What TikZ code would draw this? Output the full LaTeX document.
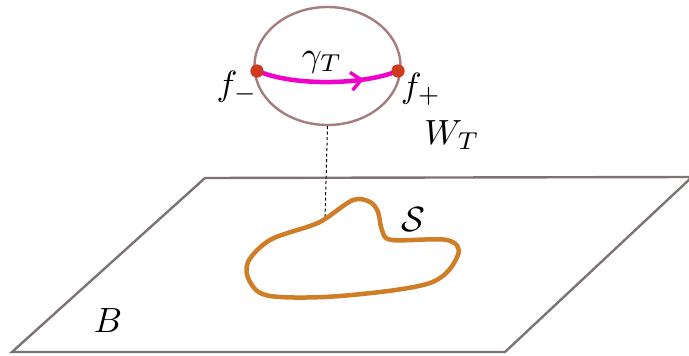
\documentclass[tikz,border=0pt]{standalone}
\usepackage{graphicx}
\usetikzlibrary{shapes.geometric,arrows.meta,decorations.markings}
\definecolor{planec}{RGB}{125,115,115}
\definecolor{ellc}{RGB}{165,125,125}
\definecolor{curvec}{RGB}{208,125,40}
\definecolor{dotc}{RGB}{205,60,30}
\definecolor{magc}{RGB}{240,0,200}
\newcommand{\biglbl}[1]{\scalebox{3.5}{$#1$}}
\tikzset{
  lbl/.style={inner sep=0pt},
  dotnode/.style={circle, fill=dotc, inner sep=0pt, minimum size=13pt},
}
\begin{document}
\begin{tikzpicture}[x=1pt,y=-1pt]
\useasboundingbox (0,0) rectangle (689,356);
% plane
\coordinate (p1) at (205,178);
\coordinate (p2) at (692,177);
\coordinate (p3) at (505,352);
\coordinate (p4) at (12,352);
\draw[planec, line width=2.4pt, line join=miter] (p4) -- (p1) -- (p2) -- (p3) -- cycle;
% fiber ellipse
\node[ellipse, draw=ellc, line width=2.4pt, minimum width=146pt, minimum height=118pt, inner sep=0pt] (W) at (327.5,66) {};
% dashed link
\coordinate (base) at (325,219);
\draw[dashed, dash pattern=on 3pt off 2.5pt, line width=1pt] (W.south) -- (base);
% curve S
\draw[curvec, line width=4.5pt] plot[smooth cycle, tension=0.55] coordinates {
  (325,219) (353,200) (370,202) (378,212) (382,230) (392,240) (447,240)
  (458,255) (430,283) (340,296) (270,296) (250,282) (248,262) (270,240) (310,226)};
% gamma
\node[dotnode] (fm) at (257,71) {};
\node[dotnode] (fp) at (398,71) {};
\draw[magc, line width=4.5pt, line cap=round,
  postaction={decorate},
  decoration={markings, mark=at position 0.78 with {\arrow[magc, line width=3.5pt]{Straight Barb[length=10pt,width=18pt]}}}]
  (fm) .. controls (300,86) and (360,84) .. (fp);
\node[dotnode] at (fm) {};
\node[dotnode] at (fp) {};
% labels
\node[lbl] (lg) at (322,62) {\biglbl{\gamma_T}};
\node[lbl] (lfm) at (237,87) {\biglbl{f_-}};
\node[lbl] (lfp) at (421,89) {\biglbl{f_+}};
\node[lbl] (lW) at (452,135) {\biglbl{W_T}};
\node[lbl] (lS) at (413,220) {\biglbl{\mathcal{S}}};
\node[lbl] (lB) at (108,321) {\biglbl{B}};
\end{tikzpicture}
\end{document}
